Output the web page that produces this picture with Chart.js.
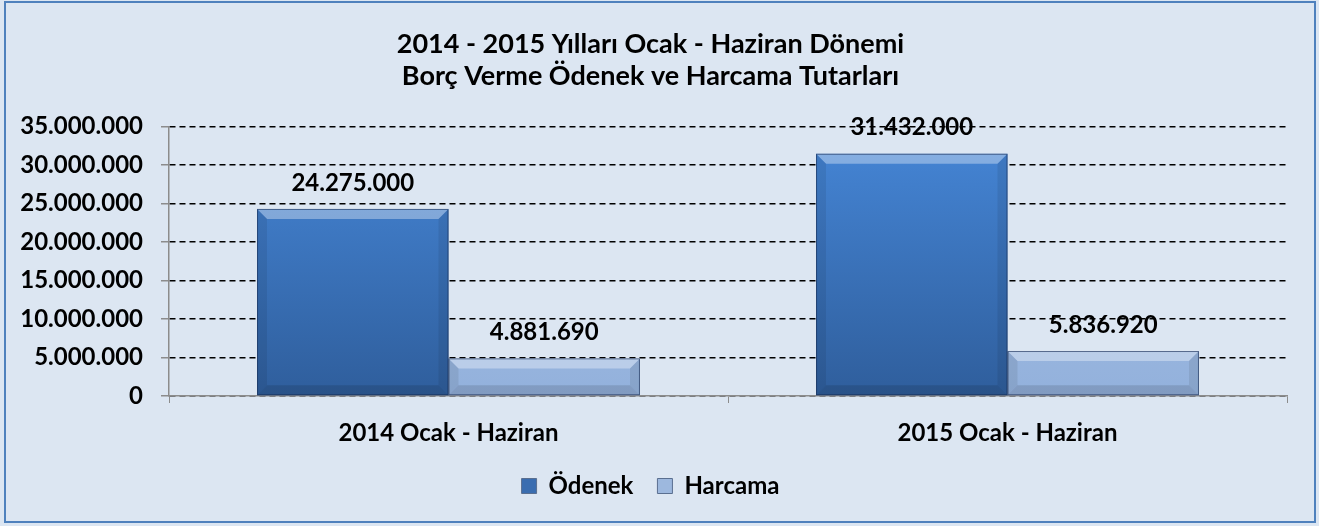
<!DOCTYPE html>
<html>
<head>
<meta charset="utf-8">
<script src="https://cdn.jsdelivr.net/npm/chart.js@4"></script>
<style>
  html, body { margin: 0; padding: 0; background: #DCE6F2; }
  #wrap { position: relative; width: 1319px; height: 526px; }
</style>
</head>
<body>
<div id="wrap"><canvas id="chart" width="1319" height="526"></canvas></div>
<script>
const categories = ['2014 Ocak - Haziran', '2015 Ocak - Haziran'];
const odenek = [24275000, 31432000];
const harcama = [4881690, 5836920];
const titleLines = ['2014 - 2015 Yılları Ocak - Haziran Dönemi', 'Borç Verme Ödenek ve Harcama Tutarları'];

const FONT = 'Lato';

function fmt(v) {
  return String(v).replace(/\B(?=(\d{3})+(?!\d))/g, '.');
}

function barFill(dark, light) {
  return (ctx) => {
    const area = ctx.chart.chartArea;
    if (!area) return dark;
    const g = ctx.chart.ctx.createLinearGradient(0, area.top, 0, area.bottom);
    g.addColorStop(0, light);
    g.addColorStop(1, dark);
    return g;
  };
}

// background + outer frame
const frame = {
  id: 'frame',
  beforeDraw(chart) {
    const c = chart.ctx;
    c.save();
    c.fillStyle = '#DCE6F2';
    c.fillRect(0, 0, chart.width, chart.height);
    c.strokeStyle = '#4F81BD';
    c.lineWidth = 2;
    c.strokeRect(5, 2, 1310, 520);
    c.restore();
  }
};

// bevel edges + value labels over the bars
const barDeco = {
  id: 'barDeco',
  afterDatasetsDraw(chart) {
    const c = chart.ctx;
    c.save();
    chart.data.datasets.forEach((ds, di) => {
      chart.getDatasetMeta(di).data.forEach((bar, i) => {
        const l = bar.x - bar.width / 2, r = bar.x + bar.width / 2;
        const t = bar.y, b = bar.base;
        const e = Math.min(10, (b - t) / 2);
        c.fillStyle = 'rgba(255,255,255,0.35)';
        c.beginPath();
        c.moveTo(l, t); c.lineTo(r, t); c.lineTo(r - e, t + e); c.lineTo(l + e, t + e);
        c.fill();
        c.fillStyle = 'rgba(0,0,0,0.12)';
        c.beginPath();
        c.moveTo(l, b); c.lineTo(r, b); c.lineTo(r - e, b - e); c.lineTo(l + e, b - e);
        c.fill();
        c.fillStyle = 'rgba(0,0,0,0.08)';
        c.beginPath();
        c.moveTo(l, t); c.lineTo(l + e, t + e); c.lineTo(l + e, b - e); c.lineTo(l, b);
        c.moveTo(r, t); c.lineTo(r - e, t + e); c.lineTo(r - e, b - e); c.lineTo(r, b);
        c.fill();
        c.strokeStyle = 'rgba(20,40,80,0.6)';
        c.lineWidth = 1;
        c.strokeRect(l + 0.5, t + 0.5, r - l - 1, b - t - 1);

        c.fillStyle = '#000';
        c.font = 'bold 24px ' + FONT;
        c.textAlign = 'center';
        c.textBaseline = 'middle';
        c.fillText(fmt(ds.data[i]), bar.x, t - 26);
      });
    });
    c.restore();
  }
};

new Chart(document.getElementById('chart'), {
  type: 'bar',
  data: {
    labels: categories,
    datasets: [
      { label: 'Ödenek', data: odenek, backgroundColor: barFill('#2F5E9C', '#4687D8'),
        categoryPercentage: 0.685, barPercentage: 1.0 },
      { label: 'Harcama', data: harcama, backgroundColor: barFill('#93B1DC', '#A9C3E6'),
        categoryPercentage: 0.685, barPercentage: 1.0 }
    ]
  },
  options: {
    responsive: false,
    animation: false,
    layout: { padding: { left: 14, right: 32, top: 0, bottom: 18 } },
    plugins: {
      title: {
        display: true,
        text: titleLines,
        color: '#000',
        font: { family: FONT, size: 27, weight: 'bold', lineHeight: 1.19 },
        padding: { top: 28, bottom: 34 }
      },
      legend: {
        position: 'bottom',
        labels: {
          color: '#000',
          font: { family: FONT, size: 24, weight: 'bold' },
          boxWidth: 15, boxHeight: 15, padding: 24,
          generateLabels(chart) {
            const cols = ['#3A6DB0', '#9DB8DE'];
            return chart.data.datasets.map((ds, i) => ({
              text: ds.label, fillStyle: cols[i], strokeStyle: '#5a6f90', lineWidth: 1,
              datasetIndex: i, hidden: false
            }));
          }
        }
      },
      tooltip: { enabled: false }
    },
    scales: {
      x: {
        grid: { drawOnChartArea: false, tickColor: '#8c8c8c', tickLength: 7, offset: true },
        border: { color: '#8c8c8c', width: 1.5 },
        ticks: { color: '#000', font: { family: FONT, size: 24, weight: 'bold' }, padding: 16 },
        afterFit(scale) { scale.height = 54; }
      },
      y: {
        min: 0, max: 35000000,
        grid: { color: '#000', lineWidth: 1.5, tickColor: '#8c8c8c', tickLength: 8 },
        border: { color: '#8c8c8c', width: 1.5, dash: [6, 4] },
        ticks: { stepSize: 5000000, color: '#000', font: { family: FONT, size: 24, weight: 'bold' },
          padding: 18, callback: (v) => fmt(v) },
        afterFit(scale) { scale.width = 155; }
      }
    }
  },
  plugins: [frame, barDeco]
});
</script>
</body>
</html>
